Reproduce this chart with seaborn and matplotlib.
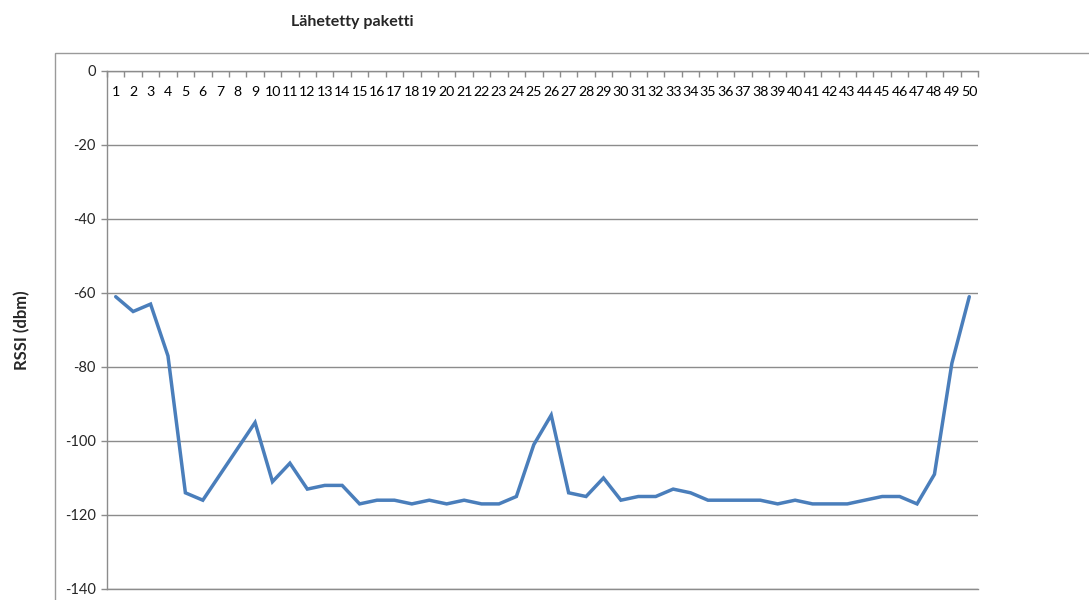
import matplotlib
matplotlib.use("Agg")
import matplotlib.pyplot as plt
from matplotlib.patches import Rectangle
import seaborn as sns
import pandas as pd
import numpy as np

packets = list(range(1, 51))
rssi = [-61, -65, -63, -77, -114, -116, -109, -102, -95, -111,
        -106, -113, -112, -112, -117, -116, -116, -117, -116, -117,
        -116, -117, -117, -115, -101, -93, -114, -115, -110, -116,
        -115, -115, -113, -114, -116, -116, -116, -116, -117, -116,
        -117, -117, -117, -116, -115, -115, -117, -109, -79, -61]
y_ticks = [0, -20, -40, -60, -80, -100, -120, -140]
title = "Lähetetty paketti"
ylabel = "RSSI (dbm)"

sns.set_style("white")
plt.rcParams['font.family'] = ['Lato', 'DejaVu Sans']

df = pd.DataFrame({"packet": packets, "rssi": rssi})

W, H = 1089, 600
fig = plt.figure(figsize=(W / 100, H / 100), dpi=100)
ax = fig.add_axes([107 / W, 1 - 589 / H, (978 - 107) / W, (589 - 71) / H])

sns.lineplot(data=df, x="packet", y="rssi", ax=ax, color="#4A7EBB",
             linewidth=2.5, solid_joinstyle="miter")

ax.set_xlim(0.5, 50.5)
ax.set_ylim(-140, 0)
ax.set_yticks(y_ticks)
ax.set_yticklabels([str(v) for v in y_ticks])
ax.yaxis.grid(True, color="#8c8c8c", linewidth=1.0)
ax.set_axisbelow(True)

# category axis at the top (y = 0)
ax.set_xticks(packets)
ax.set_xticklabels([str(p) for p in packets])
ax.set_xticks(np.arange(0.5, 51.5, 1), minor=True)
ax.tick_params(axis="x", which="major", bottom=False, labelbottom=False,
               top=True, labeltop=True, length=0, pad=-19.5,
               labelsize=10.2, colors="black")
ax.tick_params(axis="x", which="minor", bottom=False, top=True,
               direction="in", length=4, width=1, color="#8c8c8c")
ax.tick_params(axis="y", which="major", left=True, direction="out",
               length=4, width=1, color="#8c8c8c", labelsize=10.5, pad=4)

for s in ["right"]:
    ax.spines[s].set_visible(False)
for s in ["top", "left", "bottom"]:
    ax.spines[s].set_color("#8c8c8c")
    ax.spines[s].set_linewidth(1.0)

ax.set_xlabel("")
ax.set_ylabel("")

fig.text(352 / W, 1 - 22 / H, title, ha="center", va="center",
         fontsize=11.5, fontweight="bold")
fig.text(22 / W, 1 - 330 / H, ylabel, ha="center", va="center",
         rotation=90, fontsize=12, fontweight="bold")

# chart area frame
fig.patches.append(Rectangle((55 / W, -0.1), 1.2, 1 - 53.5 / H + 0.1,
                             transform=fig.transFigure, fill=False,
                             edgecolor="#9a9a9a", linewidth=1.0))

fig.savefig("out.png", dpi=100)
